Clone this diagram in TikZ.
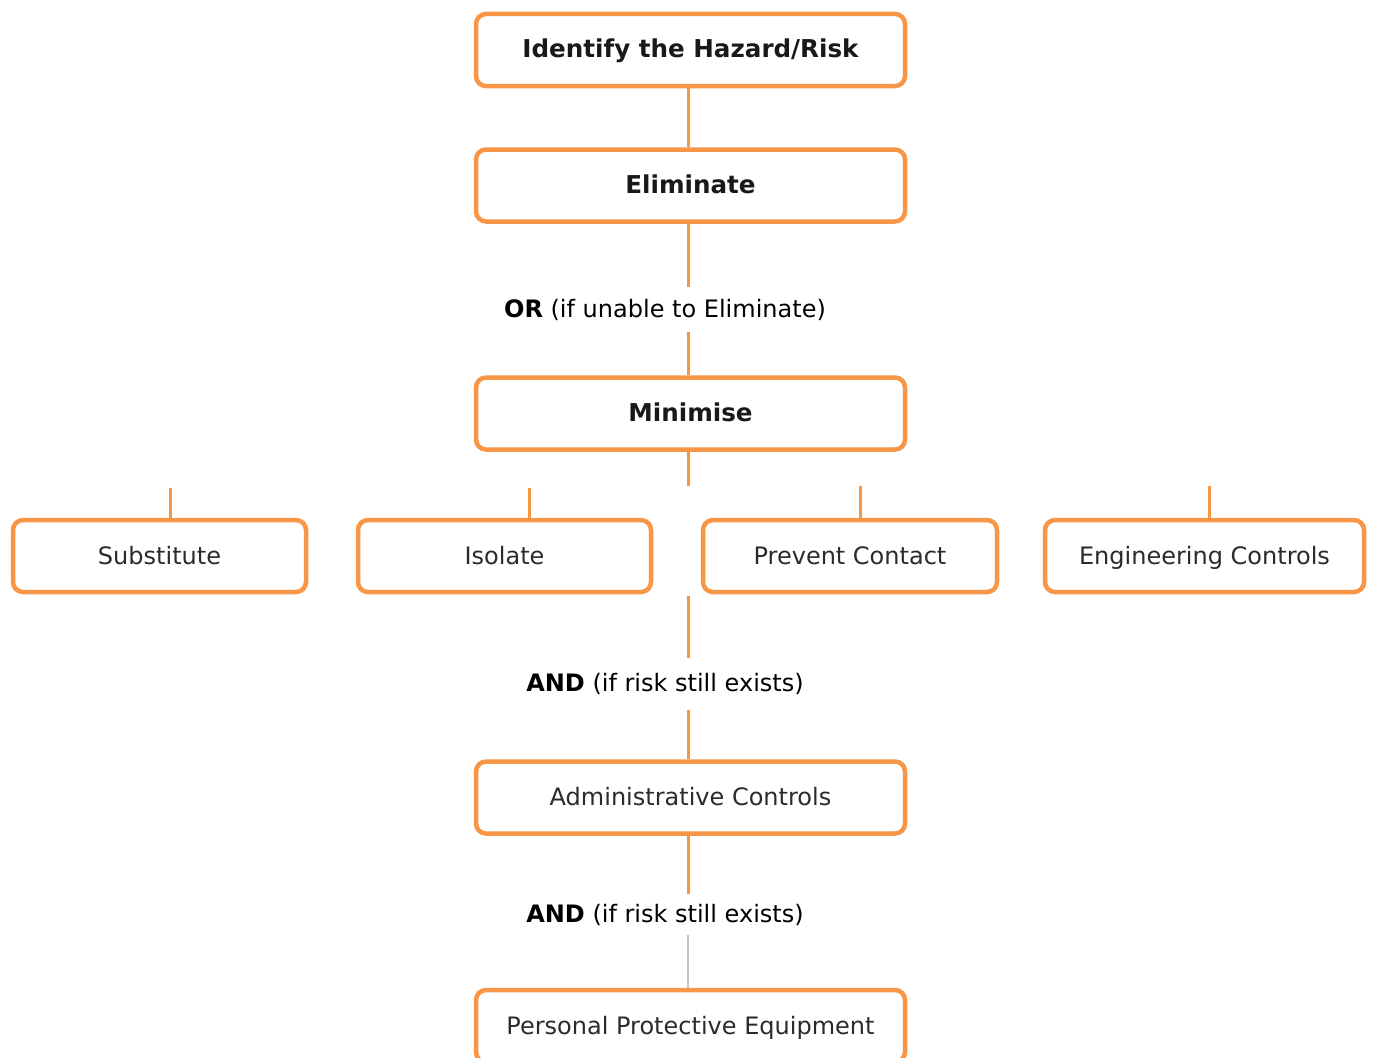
\documentclass[tikz,border=0pt]{standalone}
\usepackage{fontspec}
\setmainfont{DejaVu Sans}
\definecolor{boxorange}{HTML}{F79646}
\definecolor{boxtext}{HTML}{2B2B2B}
\definecolor{grayline}{HTML}{C4C4C4}
\begin{document}
\begin{tikzpicture}[x=1pt,y=-1pt,
  hbox/.style={draw=boxorange, line width=4.5pt, rounded corners=10pt, fill=white,
    minimum height=72pt, inner sep=0pt, text=boxtext, text height=19pt, text depth=3pt,
    font=\fontsize{24}{28}\selectfont},
  mainbox/.style={hbox, minimum width=429pt},
  boldbox/.style={mainbox, font=\fontsize{24.6}{28}\selectfont\bfseries, text=black!90},
  conn/.style={draw=boxorange, line width=3pt},
  lbl/.style={inner sep=0pt, text=black, font=\fontsize{24}{28}\selectfont}]
\useasboundingbox (0,0) rectangle (1375,1057);
\clip (0,0) rectangle (1375,1057);
\fill[white] (0,0) rectangle (1375,1057);
\coordinate (spine) at (688,0);
% main column
\node[boldbox] (id) at (690.5,50) {Identify the Hazard/Risk};
\node[boldbox] (el) at (690.5,185.5) {Eliminate};
\node[lbl, minimum height=45pt] (or) at (665,309.5) {\textbf{OR} (if unable to Eliminate)};
\node[boldbox] (mi) at (690.5,413.5) {Minimise};
\coordinate (mfree) at (688,486);
% row
\node[hbox, minimum width=293pt] (sub) at (159.5,556) {Substitute};
\node[hbox, minimum width=293pt] (iso) at (504.5,556) {Isolate};
\node[hbox, minimum width=294pt] (pre) at (850,556) {Prevent Contact};
\node[hbox, minimum width=319pt] (eng) at (1204.5,556) {Engineering Controls};
\coordinate (subtop) at (170,488);
\coordinate (isotop) at (529,488);
\coordinate (pretop) at (860,486);
\coordinate (engtop) at (1209,486);
\coordinate (rowbot) at (688,596);
\node[lbl, minimum height=51pt] (and1) at (665,684) {\textbf{AND} (if risk still exists)};
\node[mainbox] (adm) at (690.5,797.5) {Administrative Controls};
\node[lbl, minimum height=40pt] (and2) at (665,914.5) {\textbf{AND} (if risk still exists)};
\node[mainbox] (ppe) at (690.5,1026) {Personal Protective Equipment};
% connectors
\draw[conn] (id.south -| spine) -- (el.north -| spine);
\draw[conn] (el.south -| spine) -- (or.north -| spine);
\draw[conn] (or.south -| spine) -- (mi.north -| spine);
\draw[conn] (mi.south -| spine) -- (mfree);
\draw[conn] (subtop) -- (subtop |- sub.north);
\draw[conn] (isotop) -- (isotop |- iso.north);
\draw[conn] (pretop) -- (pretop |- pre.north);
\draw[conn] (engtop) -- (engtop |- eng.north);
\draw[conn] (rowbot) -- (and1.north -| spine);
\draw[conn] (and1.south -| spine) -- (adm.north -| spine);
\draw[conn] (adm.south -| spine) -- (and2.north -| spine);
\draw[draw=grayline, line width=1.5pt] (and2.south -| spine) -- (ppe.north -| spine);
\end{tikzpicture}
\end{document}
